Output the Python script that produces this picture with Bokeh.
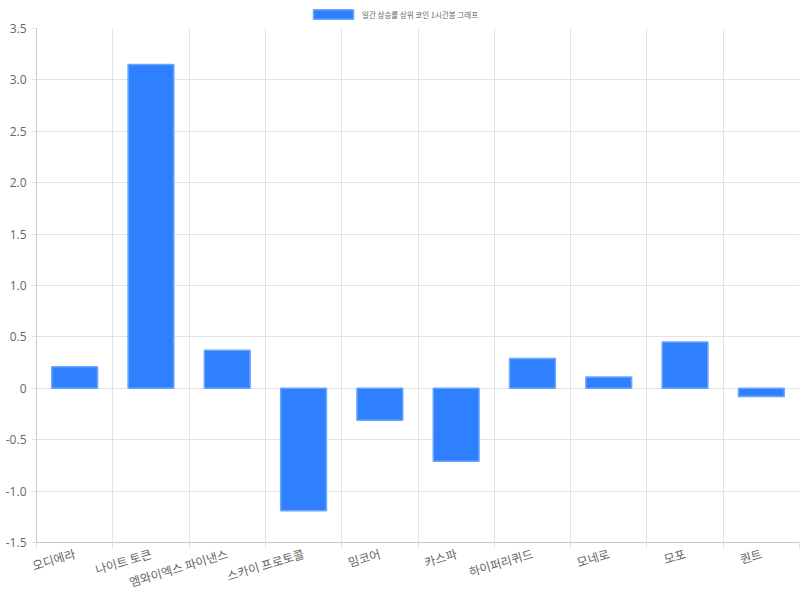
from bokeh.plotting import figure
from bokeh.layouts import column
from bokeh.models import FixedTicker, Range1d, CustomJSTickFormatter, Legend, LegendItem
from bokeh.embed import file_html
from bokeh.resources import INLINE

categories = ["오디에라", "나이트 토큰", "엠와이엑스 파이낸스", "스카이 프로토콜", "밈코어",
              "카스파", "하이퍼리퀴드", "모네로", "모포", "퀀트"]
values = [0.21, 3.15, 0.37, -1.19, -0.31, -0.71, 0.29, 0.11, 0.45, -0.08]
y_ticks = [-1.5, -1.0, -0.5, 0.0, 0.5, 1.0, 1.5, 2.0, 2.5, 3.0, 3.5]
series_name = "일간 상승률 상위 코인 1시간봉 그래프"

xs = list(range(len(categories)))
bounds = [i - 0.5 for i in range(len(categories) + 1)]

bar_fill = "#2f80ff"
bar_line = "#6aa6ff"
grid_color = "#e3e3e3"
axis_color = "#c8c8c8"
text_color = "#666666"

# main chart
p = figure(width=800, height=580, output_backend="svg", toolbar_location=None,
           x_range=Range1d(-0.5, len(categories) - 0.5), y_range=Range1d(-1.5, 3.5),
           min_border_left=36, min_border_right=1, min_border_top=8, min_border_bottom=40)
p.outline_line_color = None
p.background_fill_color = "white"
p.border_fill_color = "white"

p.vbar(x=xs, top=values, bottom=0, width=0.6, fill_color=bar_fill,
       line_color=bar_line, line_width=1.5)

# x axis
p.xaxis.ticker = FixedTicker(ticks=xs, minor_ticks=bounds)
p.xaxis.major_label_overrides = {i: c for i, c in enumerate(categories)}
p.xaxis.major_label_orientation = 0.29
p.xaxis.major_tick_out = 0
p.xaxis.major_tick_in = 0
p.xaxis.minor_tick_out = 6
p.xaxis.minor_tick_in = 0
p.xaxis.minor_tick_line_color = grid_color
p.xaxis.axis_line_color = axis_color
p.xaxis.major_label_text_font = "Noto Sans CJK KR"
p.xaxis.major_label_text_font_size = "12px"
p.xaxis.major_label_text_color = text_color
p.xaxis.major_label_standoff = 4
p.xgrid.ticker = FixedTicker(ticks=bounds)
p.xgrid.grid_line_color = grid_color

# y axis
p.yaxis.ticker = FixedTicker(ticks=y_ticks)
p.yaxis.formatter = CustomJSTickFormatter(code="return tick == 0 ? '0' : tick.toFixed(1);")
p.yaxis.major_tick_out = 5
p.yaxis.major_tick_in = 0
p.yaxis.minor_tick_out = 0
p.yaxis.minor_tick_in = 0
p.yaxis.major_tick_line_color = grid_color
p.yaxis.axis_line_color = axis_color
p.yaxis.major_label_text_font = "'Open Sans', 'Noto Sans CJK KR'"
p.yaxis.major_label_text_font_size = "12px"
p.yaxis.major_label_text_color = text_color
p.yaxis.major_label_standoff = 5
p.ygrid.ticker = FixedTicker(ticks=y_ticks)
p.ygrid.grid_line_color = grid_color

# legend strip on top
pl = figure(width=800, height=20, output_backend="svg", toolbar_location=None,
            x_range=Range1d(0, 1), y_range=Range1d(0, 1),
            min_border=0, min_border_left=0, min_border_right=0,
            min_border_top=0, min_border_bottom=0)
pl.axis.visible = False
pl.grid.visible = False
pl.outline_line_color = None
lr = pl.vbar(x=[-10], top=[-10], bottom=[-11], width=0.6, fill_color=bar_fill,
             line_color=bar_line, line_width=1.5)
legend = Legend(items=[LegendItem(label=series_name, renderers=[lr])],
                location=(272, 0), orientation="horizontal",
                glyph_width=50, glyph_height=12, label_height=12,
                label_standoff=4, padding=2, margin=0, spacing=0,
                label_text_font="Noto Sans CJK KR", label_text_font_size="7.5px",
                label_text_color=text_color, border_line_color=None,
                background_fill_alpha=0)
pl.add_layout(legend)

layout = column(pl, p, spacing=0)
open("out.html", "w").write(file_html(layout, INLINE))
